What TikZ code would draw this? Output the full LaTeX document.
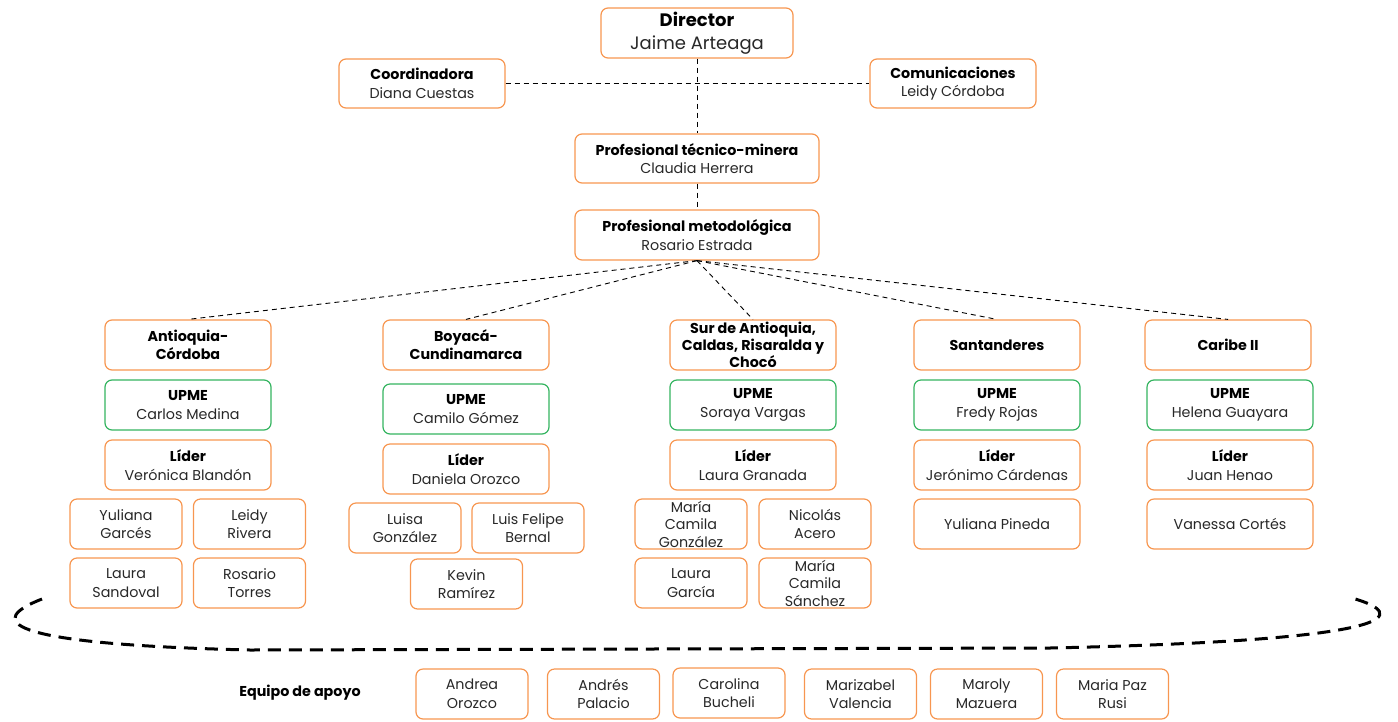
\documentclass[tikz,border=0pt]{standalone}
\usepackage{fontspec}
\setmainfont{Poppins}
\definecolor{boxorange}{RGB}{247,150,80}
\definecolor{boxgreen}{RGB}{52,180,96}
\definecolor{nametext}{RGB}{40,40,40}
\tikzset{
  box/.style={draw=boxorange, line width=1.2pt, rounded corners=7pt, align=center,
    minimum width=166pt, minimum height=50pt, inner sep=1pt, text=nametext,
    font=\fontsize{14.3}{18.5}\selectfont},
  upmebox/.style={box, draw=boxgreen},
  member/.style={box, minimum width=112pt},
  link/.style={dash pattern=on 5pt off 4pt, line width=0.9pt},
}
\begin{document}
\begin{tikzpicture}[x=1pt,y=-1pt]
  \useasboundingbox (0,0) rectangle (1398,721);
  % Top of the chart
  \node[box, minimum width=192pt, font=\fontsize{18}{23}\selectfont] (director) at (697,33)
    {\textbf{\color{black}Director}\\Jaime Arteaga};
  \node[box, minimum height=49pt] (coordinadora) at (422,83.5)
    {\textbf{\color{black}Coordinadora}\\Diana Cuestas};
  \node[box, minimum height=49pt] (comunicaciones) at (953,83.5)
    {\textbf{\color{black}Comunicaciones}\\Leidy Córdoba};
  \node[box, minimum width=244pt, minimum height=49pt] (tecnica) at (697,158.5)
    {\textbf{\color{black}Profesional técnico-minera}\\Claudia Herrera};
  \node[box, minimum width=244pt] (metodologica) at (697,235)
    {\textbf{\color{black}Profesional metodológica}\\Rosario Estrada};
  \draw[link] (coordinadora) -- (comunicaciones);
  \draw[link] (director) -- (tecnica);
  \draw[link] (tecnica) -- (metodologica);
  % Regions
  \node[box, font=\fontsize{14.3}{18}\selectfont\bfseries, text=black] (antioquia) at (188,345) {Antioquia-\\Córdoba};
  \node[box, font=\fontsize{14.3}{18}\selectfont\bfseries, text=black] (boyaca) at (466,345) {Boyacá-\\Cundinamarca};
  \node[box, font=\fontsize{14.3}{17}\selectfont\bfseries, text=black] (sur) at (753,345) {Sur de Antioquia,\\Caldas, Risaralda y\\Chocó};
  \node[box, font=\fontsize{14.3}{18}\selectfont\bfseries, text=black] (santanderes) at (997,345) {Santanderes};
  \node[box, font=\fontsize{14.3}{18}\selectfont\bfseries, text=black] (caribe) at (1228,345) {Caribe II};
  \draw[link] (metodologica.south) -- (antioquia.north);
  \draw[link] (metodologica.south) -- (boyaca.north);
  \draw[link] (metodologica.south) -- (sur.north);
  \draw[link] (metodologica.south) -- (santanderes.north);
  \draw[link] (metodologica.south) -- (caribe.north);
  % UPME and leaders
  \node[upmebox] (upmeant) at (188,405) {\textbf{\color{black}UPME}\\Carlos Medina};
  \node[upmebox] (upmeboy) at (466,409) {\textbf{\color{black}UPME}\\Camilo Gómez};
  \node[upmebox] (upmesur) at (753,405) {\textbf{\color{black}UPME}\\Soraya Vargas};
  \node[upmebox] (upmesan) at (997,405) {\textbf{\color{black}UPME}\\Fredy Rojas};
  \node[upmebox] (upmecar) at (1230,405) {\textbf{\color{black}UPME}\\Helena Guayara};
  \node[box] (liderant) at (188,465) {\textbf{\color{black}Líder}\\Verónica Blandón};
  \node[box] (liderboy) at (466,469) {\textbf{\color{black}Líder}\\Daniela Orozco};
  \node[box] (lidersur) at (753,465) {\textbf{\color{black}Líder}\\Laura Granada};
  \node[box] (lidersan) at (997,465) {\textbf{\color{black}Líder}\\Jerónimo Cárdenas};
  \node[box] (lidercar) at (1230,465) {\textbf{\color{black}Líder}\\Juan Henao};
  % Team members
  \node[member] (garces) at (126,524) {Yuliana\\Garcés};
  \node[member] (rivera) at (249.5,524) {Leidy\\Rivera};
  \node[member] (sandoval) at (126,583) {Laura\\Sandoval};
  \node[member] (torres) at (249.5,583) {Rosario\\Torres};
  \node[member] (gonzalez) at (405,528) {Luisa\\González};
  \node[member] (bernal) at (528,528) {Luis Felipe\\Bernal};
  \node[member] (ramirez) at (466.5,584) {Kevin\\Ramírez};
  \node[member, font=\fontsize{14.3}{17.5}\selectfont, inner sep=0pt] (mcgonzalez) at (691,524) {María\\Camila\\González};
  \node[member] (acero) at (815,524) {Nicolás\\Acero};
  \node[member] (garcia) at (691,583) {Laura\\García};
  \node[member, font=\fontsize{14.3}{17.5}\selectfont, inner sep=0pt] (sanchez) at (815,583) {María\\Camila\\Sánchez};
  \node[box] (pineda) at (997,524) {Yuliana Pineda};
  \node[box] (cortes) at (1230,524) {Vanessa Cortés};
  % Brace around the regional teams
  \draw[line width=3pt, dash pattern=on 13pt off 8pt] (42,599) .. controls (-12,620) and (-5,644) .. (250,650)
    -- (1050,648) .. controls (1412,640) and (1408,614) .. (1352,598);
  % Support team
  \node[font=\fontsize{14.3}{18}\selectfont\bfseries] (apoyo) at (300,693) {Equipo de apoyo};
  \node[member] (orozco) at (472,694) {Andrea\\Orozco};
  \node[member] (palacio) at (603.5,694) {Andrés\\Palacio};
  \node[member] (bucheli) at (729,693) {Carolina\\Bucheli};
  \node[member] (valencia) at (860.5,694) {Marizabel\\Valencia};
  \node[member] (mazuera) at (986.5,694) {Maroly\\Mazuera};
  \node[member] (rusi) at (1112.5,694) {Maria Paz\\Rusi};
\end{tikzpicture}
\end{document}
